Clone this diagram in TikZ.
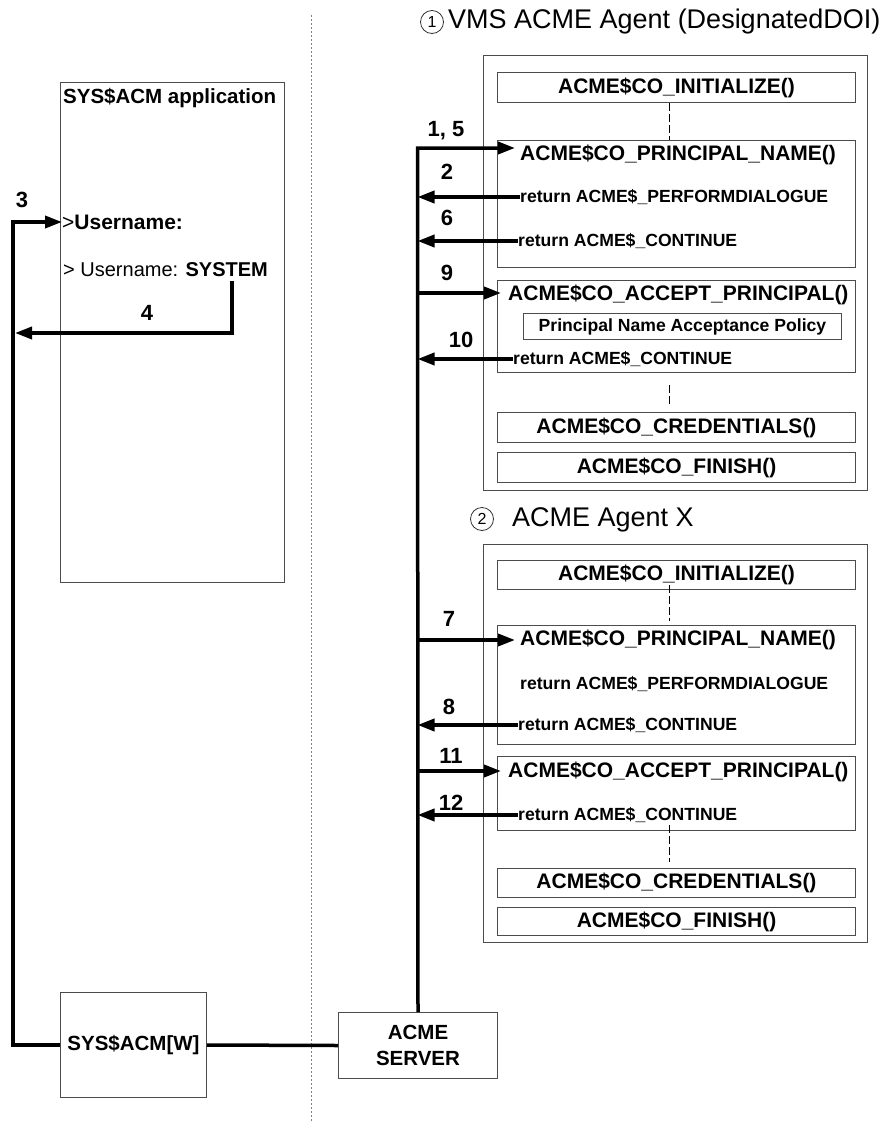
\documentclass[tikz,border=0pt]{standalone}
\usepackage{fontspec}
\setmainfont{Liberation Sans}
\usetikzlibrary{arrows.meta,calc}
\newcommand\Tfont{\fontsize{21}{24}\selectfont\bfseries}
\newcommand\Rfont{\fontsize{17.6}{20}\selectfont\bfseries}
\newcommand\Lfont{\fontsize{22}{24}\selectfont\bfseries}
\newcommand\Hfont{\fontsize{27}{30}\selectfont}
\begin{document}
\begin{tikzpicture}[x=1pt,y=-1pt,
  box/.style={draw=black!70, line width=1pt, inner sep=0pt, anchor=north west},
  txt/.style={anchor=west, inner sep=0pt},
  lbl/.style={inner sep=0pt, font=\Lfont},
  arr/.style={line width=3.5pt, -{Triangle[length=17pt,width=12pt]}},
  bus/.style={line width=3.5pt},
  dsh/.style={line width=1pt, dash pattern=on 8pt off 3pt},
  num/.style={circle, draw=black!80, line width=0.8pt, inner sep=0pt, minimum size=23pt, font=\fontsize{16}{16}\selectfont}
]
\useasboundingbox (0,0) rectangle (881,1122);
% separator
\draw[gray, line width=1pt, dash pattern=on 2pt off 2pt] (311,15) -- (311,1122);

% ---------- left application ----------
\node[box, minimum width=224pt, minimum height=500pt] (app) at (60,82) {};
\node[txt, font=\fontsize{20.5}{24}\selectfont\bfseries] (apptitle) at (63,98) {SYS\$ACM application};
\node[txt, font=\fontsize{21}{24}\selectfont] (prompt) at (62,222) {>\textbf{Username:}};
\node[txt, font=\fontsize{20}{24}\selectfont] (answer) at (63,270) {> Username: \textbf{SYSTEM}};
\node[box, minimum width=146pt, minimum height=105pt, font=\fontsize{20.5}{24}\selectfont\bfseries] (sysw) at (60,992) {SYS\$ACM[W]};
\node[box, minimum width=159pt, minimum height=66pt, align=center, font=\fontsize{20.5}{26}\selectfont\bfseries] (srv) at (338,1012) {ACME\\SERVER};

% ---------- agent 1 ----------
\node[num] (c1) at (432,22) {1};
\node[txt, font=\Hfont] (ag1title) at (448,22) {VMS ACME Agent (DesignatedDOI)};
\node[box, minimum width=384pt, minimum height=435pt] (ag1) at (483,55) {};
\node[box, minimum width=358pt, minimum height=30pt, font=\Tfont] (init1) at (497,72) {ACME\$CO\_INITIALIZE()};
\node[box, minimum width=358pt, minimum height=127pt] (pn1) at (497,140) {};
\node[txt, font=\Tfont] (pn1t) at (520,155) {ACME\$CO\_PRINCIPAL\_NAME()};
\node[txt, font=\Rfont] (ret2) at (520,197) {return ACME\$\_PERFORMDIALOGUE};
\node[txt, font=\Rfont] (ret6) at (518,241) {return ACME\$\_CONTINUE};
\node[box, minimum width=358pt, minimum height=92pt] (ap1) at (497,280) {};
\node[txt, font=\Tfont] (ap1t) at (508,295) {ACME\$CO\_ACCEPT\_PRINCIPAL()};
\node[box, minimum width=318pt, minimum height=26pt, font=\Rfont] (pol) at (523,313) {Principal Name Acceptance Policy};
\node[txt, font=\Rfont] (ret10) at (513,359) {return ACME\$\_CONTINUE};
\node[box, minimum width=358pt, minimum height=30pt, font=\Tfont] (cred1) at (497,412) {ACME\$CO\_CREDENTIALS()};
\node[box, minimum width=358pt, minimum height=30pt, font=\Tfont] (fin1) at (497,452) {ACME\$CO\_FINISH()};
\draw[dsh] ([xshift=-7pt]init1.south) -- ([xshift=-7pt]pn1.north);
\draw[dsh] ([xshift=-7pt,yshift=-12pt]ap1.south) -- ([xshift=-7pt,yshift=6pt]cred1.north);

% ---------- agent 2 ----------
\node[num] (c2) at (482,519) {2};
\node[txt, font=\Hfont] (ag2title) at (512,520) {ACME Agent X};
\node[box, minimum width=384pt, minimum height=398pt] (ag2) at (483,544) {};
\node[box, minimum width=358pt, minimum height=29pt, font=\Tfont] (init2) at (497,560) {ACME\$CO\_INITIALIZE()};
\node[box, minimum width=358pt, minimum height=119pt] (pn2) at (497,625) {};
\node[txt, font=\Tfont] (pn2t) at (520,640) {ACME\$CO\_PRINCIPAL\_NAME()};
\node[txt, font=\Rfont] (pd2) at (520,684) {return ACME\$\_PERFORMDIALOGUE};
\node[txt, font=\Rfont] (ret8) at (518,725) {return ACME\$\_CONTINUE};
\node[box, minimum width=358pt, minimum height=74pt] (ap2) at (497,756) {};
\node[txt, font=\Tfont] (ap2t) at (508,772) {ACME\$CO\_ACCEPT\_PRINCIPAL()};
\node[txt, font=\Rfont] (ret12) at (518,815) {return ACME\$\_CONTINUE};
\node[box, minimum width=358pt, minimum height=29pt, font=\Tfont] (cred2) at (497,868) {ACME\$CO\_CREDENTIALS()};
\node[box, minimum width=358pt, minimum height=28pt, font=\Tfont] (fin2) at (497,907) {ACME\$CO\_FINISH()};
\draw[dsh] ([xshift=-7pt,yshift=5pt]init2.south) -- ([xshift=-7pt,yshift=4pt]pn2.north);
\draw[dsh] ([xshift=-7pt,yshift=6pt]ap2.south) -- ([xshift=-7pt,yshift=6pt]cred2.north);

% ---------- connectors ----------
\coordinate (b15) at (417.5,148);
\coordinate (t15) at (515,148);
\draw[arr] (srv.north) -- (b15) -- (t15);
\draw[arr] (ret2.west) -- (ret2.west -| b15);
\draw[arr] (ret6.west) -- (ret6.west -| b15);
\coordinate (b9) at (417.5,293);
\coordinate (t9) at (501,293);
\draw[arr] (b9) -- (t9);
\draw[arr] (ret10.west) -- (ret10.west -| b15);
\coordinate (b7) at (417.5,640);
\coordinate (t7) at (515,640);
\draw[arr] (b7) -- (t7);
\draw[arr] (ret8.west) -- (ret8.west -| b15);
\coordinate (b11) at (417.5,771);
\coordinate (t11) at (501,771);
\draw[arr] (b11) -- (t11);
\draw[arr] (ret12.west) -- (ret12.west -| b15);

\draw[bus] (sysw.east) -- (srv.west);
\coordinate (l3) at (13,222);
\draw[arr] (sysw.west) -| (l3) -- (prompt.west);
\coordinate (sysT) at (232,281);
\coordinate (l4) at (15,333);
\draw[arr] (sysT) |- (l4);

% ---------- labels ----------
\node[lbl] (n15) at (446,131) {1, 5};
\node[lbl] (n2) at (447,172) {2};
\node[lbl] (n6) at (447,218) {6};
\node[lbl] (n9) at (447,273) {9};
\node[lbl] (n10) at (461,340) {10};
\node[lbl] (n7) at (449,619) {7};
\node[lbl] (n8) at (449,707) {8};
\node[lbl] (n11) at (451,756) {11};
\node[lbl] (n12) at (451,803) {12};
\node[lbl] (n3) at (22,200) {3};
\node[lbl] (n4) at (147,313) {4};
\end{tikzpicture}
\end{document}
